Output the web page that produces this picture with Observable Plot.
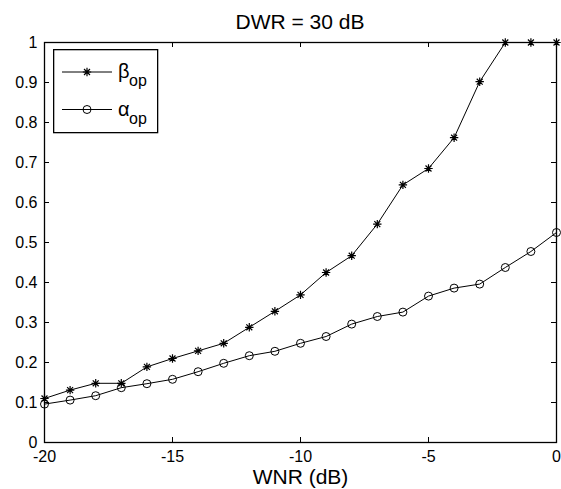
<!DOCTYPE html>
<html>
<head>
<meta charset="utf-8">
<script src="https://cdn.jsdelivr.net/npm/d3@7"></script>
<script src="https://cdn.jsdelivr.net/npm/@observablehq/plot@0.6"></script>
<style>
  html, body { margin: 0; padding: 0; background: #fff; }
  body { font-family: "Liberation Sans", Arial, sans-serif; color: #000; }
  #wrap { position: relative; width: 561px; height: 489px; overflow: hidden; }
  #title { height: 23px; padding-top: 11px; line-height: 21px; padding-left: 44px; width: 512px; text-align: center; font-size: 21px; white-space: nowrap; }
  #chart svg { display: block; }
  #legend { position: absolute; left: 53px; top: 49px; }
</style>
</head>
<body>
<div id="wrap">
  <div id="title">DWR = 30 dB</div>
  <div id="chart"></div>
  <svg id="legend" width="106" height="85"></svg>
</div>
<script>
// ---- data ----
const wnr = [-20, -19, -18, -17, -16, -15, -14, -13, -12, -11, -10, -9, -8, -7, -6, -5, -4, -3, -2, -1, 0];
const betaOp = [0.110, 0.131, 0.148, 0.148, 0.189, 0.210, 0.229, 0.248, 0.288, 0.328, 0.369, 0.425, 0.467, 0.546, 0.644, 0.685, 0.762, 0.902, 1.0, 1.0, 1.0];
const alphaOp = [0.096, 0.106, 0.117, 0.137, 0.147, 0.158, 0.177, 0.198, 0.217, 0.228, 0.248, 0.265, 0.296, 0.315, 0.326, 0.366, 0.386, 0.396, 0.4375, 0.4775, 0.525];
const xTicks = [-20, -15, -10, -5, 0];
const yTicks = [0, 0.1, 0.2, 0.3, 0.4, 0.5, 0.6, 0.7, 0.8, 0.9, 1];
const xLabel = ["WNR (dB)"];
const seriesNames = ["β", "α"];
const seriesSub = "op";

const betaData = wnr.map((x, i) => ({x, y: betaOp[i]}));
const alphaData = wnr.map((x, i) => ({x, y: alphaOp[i]}));

// plain hyphen-minus labels, as in the reference
const fmt = d => String(+d.toFixed(2));

// MATLAB-like "*" marker
const starSymbol = {
  draw(ctx, size) {
    const r = Math.sqrt(size / Math.PI);
    const d = r * Math.SQRT1_2;
    ctx.moveTo(-r, 0); ctx.lineTo(r, 0);
    ctx.moveTo(0, -r); ctx.lineTo(0, r);
    ctx.moveTo(-d, -d); ctx.lineTo(d, d);
    ctx.moveTo(-d, d); ctx.lineTo(d, -d);
  }
};

const W = 561, H = 455, mL = 44, mR = 5, mT = 8, mB = 47;
const innerW = W - mL - mR, innerH = H - mT - mB;
const tick = 5;

const chart = Plot.plot({
  width: W, height: H,
  marginLeft: mL, marginRight: mR, marginTop: mT, marginBottom: mB,
  style: {fontFamily: "Liberation Sans, Arial, sans-serif", fontSize: "16px", color: "#000", background: "#fff", overflow: "visible"},
  x: {domain: [-20, 0]},
  y: {domain: [0, 1]},
  marks: [
    Plot.frame({stroke: "#000", strokeWidth: 1.3}),
    // inward ticks on all four sides
    Plot.ruleX(xTicks, {x: d => d, insetTop: innerH - tick, stroke: "#000"}),
    Plot.ruleX(xTicks, {x: d => d, insetBottom: innerH - tick, stroke: "#000"}),
    Plot.ruleY(yTicks, {y: d => d, insetRight: innerW - tick, stroke: "#000"}),
    Plot.ruleY(yTicks, {y: d => d, insetLeft: innerW - tick, stroke: "#000"}),
    Plot.axisX({ticks: xTicks, tickSize: 0, tickPadding: 8, fontSize: 16, label: null, tickFormat: fmt}),
    Plot.axisY({ticks: yTicks, tickSize: 0, tickPadding: 7, fontSize: 16, label: null, tickFormat: fmt}),
    Plot.text(xLabel, {text: d => d, frameAnchor: "bottom", dy: 34.3, fontSize: 21, lineAnchor: "middle"}),
    // series
    Plot.line(betaData, {x: "x", y: "y", stroke: "#000", strokeWidth: 1}),
    Plot.dot(betaData, {x: "x", y: "y", symbol: starSymbol, r: 4.2, stroke: "#000", strokeWidth: 1.2, fill: "none"}),
    Plot.line(alphaData, {x: "x", y: "y", stroke: "#000", strokeWidth: 1}),
    Plot.dot(alphaData, {x: "x", y: "y", symbol: "circle", r: 4, stroke: "#000", strokeWidth: 1, fill: "none"})
  ]
});
document.getElementById("chart").appendChild(chart);

// ---- legend (inside the axes, north-west) ----
const leg = d3.select("#legend");
leg.append("rect").attr("x", 0.65).attr("y", 0.65).attr("width", 104).attr("height", 83)
  .attr("fill", "#fff").attr("stroke", "#000").attr("stroke-width", 1.3);
const rows = [
  {name: seriesNames[0], lineY: 23, base: 29, subBase: 36.5, kind: "star"},
  {name: seriesNames[1], lineY: 60.5, base: 67, subBase: 74.5, kind: "circle"}
];
rows.forEach(r => {
  leg.append("line").attr("x1", 9).attr("x2", 59).attr("y1", r.lineY).attr("y2", r.lineY)
    .attr("stroke", "#000").attr("stroke-width", 1);
  if (r.kind === "star") {
    leg.append("path").attr("transform", `translate(34,${r.lineY})`)
      .attr("d", d3.symbol(starSymbol, 4.2 * 4.2 * Math.PI)())
      .attr("stroke", "#000").attr("stroke-width", 1.2).attr("fill", "none");
  } else {
    leg.append("circle").attr("cx", 34).attr("cy", r.lineY).attr("r", 4)
      .attr("stroke", "#000").attr("fill", "none");
  }
  leg.append("text").attr("x", 65).attr("y", r.base).attr("font-size", 20)
    .attr("font-family", "Liberation Sans, Arial, sans-serif").text(r.name);
  leg.append("text").attr("x", 76).attr("y", r.subBase).attr("font-size", 16)
    .attr("font-family", "Liberation Sans, Arial, sans-serif").text(seriesSub);
});
</script>
</body>
</html>
